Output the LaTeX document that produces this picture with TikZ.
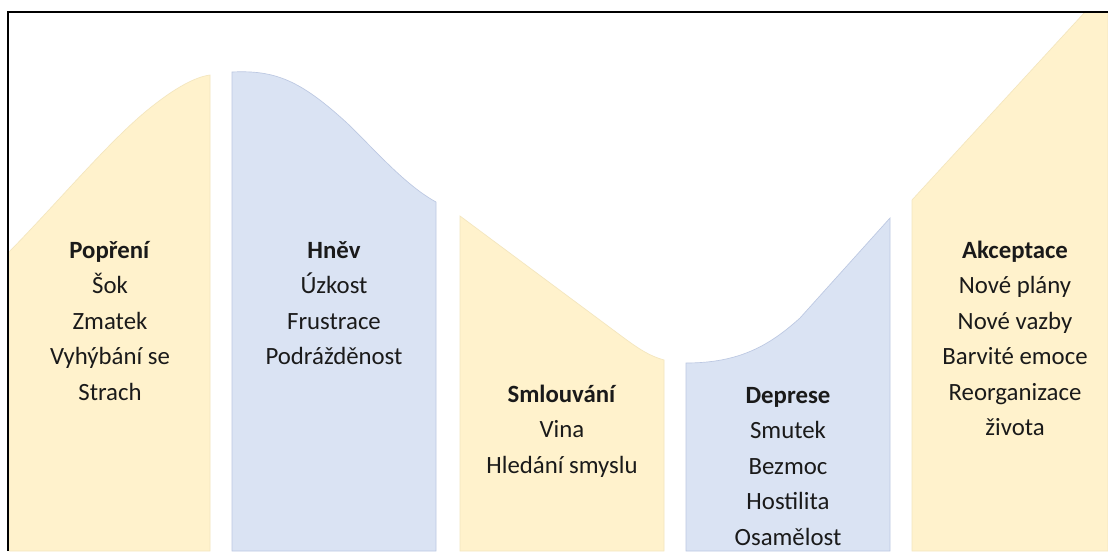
\documentclass[tikz,border=0pt]{standalone}
\usepackage{fontspec}
\setmainfont{Carlito}
\definecolor{paleyellow}{HTML}{FFF2CC}
\definecolor{paleblue}{HTML}{DAE3F3}
\definecolor{yellowedge}{HTML}{F3E6BE}
\definecolor{blueedge}{HTML}{BCC8E2}
\definecolor{stagetext}{HTML}{1A1A1A}

\begin{document}
\begin{tikzpicture}[x=0.75pt,y=-0.75pt,
  yellowpart/.style={fill=paleyellow,draw=yellowedge,line width=0.5pt},
  bluepart/.style={fill=paleblue,draw=blueedge,line width=0.5pt},
  stage/.style={anchor=base,align=center,inner sep=0pt,text=stagetext,
    font=\fontsize{18.6}{26.6}\selectfont}]
  \useasboundingbox (0,0) rectangle (1108,551);
  \fill[white] (0,0) rectangle (1108,551);

  \path[yellowpart] (9,551) -- (9,252) .. controls (60,200) and (110,140) .. (150,108)
    .. controls (175,88) and (195,77) .. (210,75) -- (210,551) -- cycle;
  \path[bluepart] (232,551) -- (232,72) .. controls (275,70) and (300,80) .. (347,123)
    .. controls (375,150) and (405,185) .. (436,202) -- (436,551) -- cycle;
  \path[yellowpart] (460,551) -- (460,216) -- (620,335)
    .. controls (640,350) and (650,356) .. (664,360) -- (664,551) -- cycle;
  \path[bluepart] (686,551) -- (686,363) .. controls (740,363) and (770,345) .. (800,318)
    -- (890,218) -- (890,551) -- cycle;
  \path[yellowpart] (912,551) -- (912,200) -- (1085,12) -- (1108,12) -- (1108,551) -- cycle;

  \node[stage] (popreni) at (110,400) {\textbf{Popření}\\Šok\\Zmatek\\Vyhýbání se\\Strach};
  \node[stage] (hnev) at (334,364.5) {\textbf{Hněv}\\Úzkost\\Frustrace\\Podrážděnost};
  \node[stage] (smlouvani) at (562,473) {\textbf{Smlouvání}\\Vina\\Hledání smyslu};
  \node[stage] (deprese) at (788,545) {\textbf{Deprese}\\Smutek\\Bezmoc\\Hostilita\\Osamělost};
  \node[stage] (akceptace) at (1015,435.5) {\textbf{Akceptace}\\Nové plány\\Nové vazby\\Barvité emoce\\Reorganizace\\života};

  \draw[line width=1.6pt,black] (8,551) -- (8,12) -- (1108,12);
\end{tikzpicture}
\end{document}
